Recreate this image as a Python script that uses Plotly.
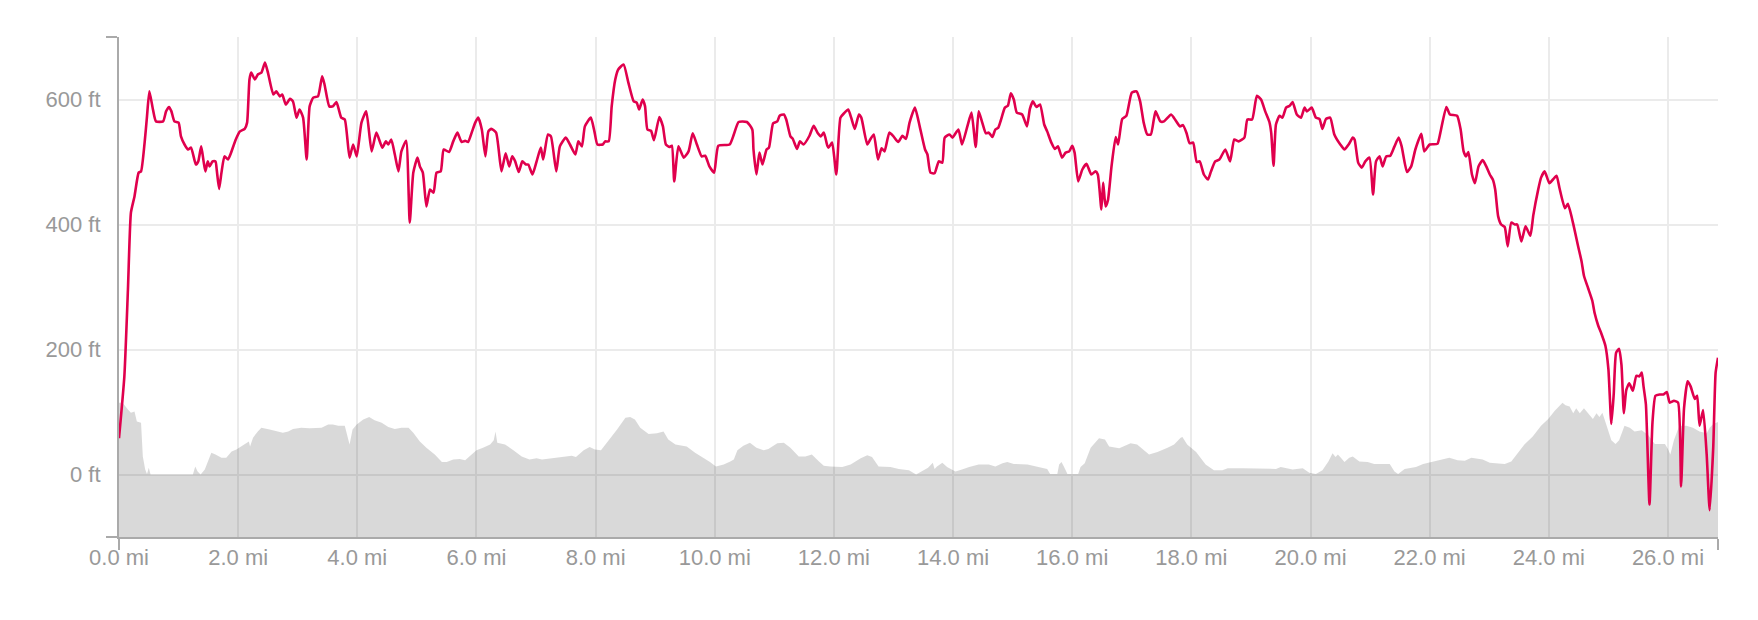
import plotly.graph_objects as go

# ---- axis settings ----
X_MAX = 26.84
Y_MIN = -100
Y_MAX = 700
X_TICKS = [0, 2, 4, 6, 8, 10, 12, 14, 16, 18, 20, 22, 24, 26]
X_TICK_LABELS = ["0.0 mi", "2.0 mi", "4.0 mi", "6.0 mi", "8.0 mi", "10.0 mi", "12.0 mi",
                 "14.0 mi", "16.0 mi", "18.0 mi", "20.0 mi", "22.0 mi", "24.0 mi", "26.0 mi"]
Y_TICKS = [0, 200, 400, 600]
Y_TICK_LABELS = ["0 ft", "200 ft", "400 ft", "600 ft"]

# ---- red series (distance in mi, value in ft) ----
red_mi = [0.0, 0.09, 0.15, 0.2, 0.26, 0.33, 0.37, 0.43, 0.47, 0.51, 0.57, 0.62, 0.74, 0.79, 0.84, 0.88,
          0.93, 1.0, 1.04, 1.1, 1.16, 1.21, 1.29, 1.33, 1.38, 1.42, 1.45, 1.49, 1.52, 1.57, 1.62, 1.64,
          1.68, 1.72, 1.77, 1.83, 1.87, 1.96, 2.03, 2.11, 2.15, 2.19, 2.22, 2.28, 2.33, 2.39, 2.45, 2.5,
          2.59, 2.64, 2.7, 2.74, 2.8, 2.87, 2.92, 2.98, 3.03, 3.09, 3.15, 3.2, 3.26, 3.34, 3.41, 3.45,
          3.53, 3.59, 3.65, 3.73, 3.79, 3.87, 3.93, 3.99, 4.07, 4.15, 4.24, 4.32, 4.42, 4.48, 4.52, 4.57,
          4.63, 4.69, 4.74, 4.82, 4.88, 4.94, 5.01, 5.05, 5.1, 5.16, 5.22, 5.28, 5.33, 5.4, 5.45, 5.54,
          5.61, 5.68, 5.75, 5.81, 5.86, 5.92, 5.98, 6.03, 6.09, 6.15, 6.2, 6.25, 6.33, 6.42, 6.49, 6.55,
          6.6, 6.65, 6.71, 6.77, 6.83, 6.87, 6.94, 7.01, 7.08, 7.12, 7.2, 7.25, 7.34, 7.4, 7.5, 7.57,
          7.66, 7.71, 7.77, 7.82, 7.92, 7.98, 8.03, 8.12, 8.16, 8.22, 8.27, 8.33, 8.38, 8.47, 8.55, 8.64,
          8.69, 8.73, 8.79, 8.83, 8.87, 8.93, 8.98, 9.07, 9.13, 9.18, 9.24, 9.28, 9.32, 9.39, 9.48, 9.56,
          9.63, 9.7, 9.78, 9.84, 9.91, 9.99, 10.06, 10.25, 10.32, 10.4, 10.54, 10.63, 10.65, 10.7, 10.75,
          10.8, 10.87, 10.91, 10.98, 11.05, 11.09, 11.16, 11.2, 11.27, 11.31, 11.38, 11.43, 11.49, 11.59,
          11.66, 11.73, 11.78, 11.83, 11.89, 11.91, 11.97, 12.04, 12.11, 12.17, 12.24, 12.29, 12.35,
          12.42, 12.46, 12.56, 12.61, 12.67, 12.74, 12.8, 12.85, 12.93, 13.0, 13.08, 13.15, 13.21, 13.27,
          13.36, 13.44, 13.53, 13.57, 13.62, 13.69, 13.76, 13.82, 13.86, 13.94, 13.99, 14.09, 14.15,
          14.24, 14.31, 14.38, 14.43, 14.49, 14.55, 14.6, 14.66, 14.71, 14.76, 14.8, 14.87, 14.92, 14.97,
          15.02, 15.07, 15.16, 15.24, 15.29, 15.34, 15.4, 15.46, 15.53, 15.58, 15.65, 15.71, 15.76, 15.83,
          15.89, 15.95, 16.0, 16.04, 16.1, 16.17, 16.24, 16.32, 16.39, 16.43, 16.49, 16.52, 16.56, 16.6,
          16.66, 16.73, 16.77, 16.84, 16.91, 17.0, 17.08, 17.14, 17.2, 17.26, 17.32, 17.37, 17.4, 17.48,
          17.54, 17.66, 17.74, 17.81, 17.86, 17.92, 17.97, 18.03, 18.09, 18.14, 18.21, 18.28, 18.33, 18.4,
          18.47, 18.57, 18.65, 18.72, 18.79, 18.89, 18.94, 19.02, 19.1, 19.17, 19.24, 19.31, 19.34, 19.38,
          19.42, 19.48, 19.53, 19.59, 19.65, 19.7, 19.77, 19.84, 19.9, 19.94, 20.02, 20.09, 20.15, 20.2,
          20.26, 20.33, 20.4, 20.5, 20.57, 20.64, 20.71, 20.74, 20.8, 20.86, 20.92, 20.99, 21.05, 21.1,
          21.16, 21.21, 21.27, 21.34, 21.41, 21.48, 21.53, 21.62, 21.69, 21.76, 21.86, 21.91, 22.0, 22.13,
          22.18, 22.28, 22.34, 22.46, 22.52, 22.57, 22.61, 22.65, 22.71, 22.76, 22.82, 22.89, 22.95,
          23.01, 23.06, 23.1, 23.15, 23.2, 23.26, 23.31, 23.37, 23.43, 23.47, 23.54, 23.61, 23.69, 23.74,
          23.82, 23.87, 23.93, 24.01, 24.07, 24.13, 24.18, 24.27, 24.32, 24.41, 24.49, 24.55, 24.59,
          24.66, 24.73, 24.77, 24.83, 24.88, 24.95, 25.0, 25.05, 25.09, 25.13, 25.18, 25.22, 25.26, 25.3,
          25.35, 25.41, 25.47, 25.52, 25.56, 25.59, 25.63, 25.69, 25.74, 25.79, 25.86, 25.92, 25.98,
          26.03, 26.1, 26.17, 26.22, 26.27, 26.33, 26.38, 26.45, 26.49, 26.53, 26.59, 26.65, 26.7, 26.76,
          26.8, 26.84]
red_ft = [58, 157, 296, 419, 445, 483, 485, 531, 573, 613, 584, 565, 565, 581, 588, 581,
          565, 563, 541, 528, 520, 523, 496, 501, 525, 501, 485, 501, 493, 501, 501, 488,
          457, 483, 509, 504, 512, 536, 549, 553, 563, 632, 643, 632, 640, 643, 659, 643,
          608, 613, 605, 608, 592, 601, 597, 571, 584, 571, 504, 589, 603, 605, 637, 624,
          589, 589, 596, 571, 568, 507, 528, 509, 563, 581, 517, 547, 523, 533, 528, 536,
          512, 485, 517, 534, 403, 483, 507, 493, 483, 429, 456, 451, 483, 485, 520, 516,
          533, 547, 532, 534, 532, 547, 563, 571, 552, 509, 549, 553, 547, 485, 514, 493,
          509, 501, 484, 501, 496, 496, 480, 501, 523, 504, 544, 541, 485, 525, 539, 528,
          512, 533, 525, 557, 571, 549, 528, 528, 533, 533, 589, 632, 648, 656, 627, 597,
          595, 584, 600, 589, 552, 550, 535, 572, 557, 528, 524, 526, 469, 525, 507, 517,
          546, 528, 509, 510, 493, 483, 526, 528, 544, 564, 564, 552, 520, 480, 515,
          496, 520, 523, 562, 565, 574, 576, 568, 541, 537, 521, 533, 528, 542,
          558, 546, 541, 547, 526, 523, 531, 480, 571, 578, 584, 571, 553,
          576, 571, 528, 536, 544, 504, 522, 517, 547, 541, 532, 542, 537, 563,
          587, 557, 520, 512, 483, 482, 501, 499, 539, 544, 539, 552, 528,
          557, 579, 524, 581, 563, 546, 547, 540, 552, 555, 566, 587, 590, 610,
          600, 579, 576, 557, 585, 597, 588, 592, 560, 549, 531, 521, 525, 507,
          515, 517, 526, 515, 469, 488, 497, 480, 485, 480, 424, 467, 429, 439,
          493, 540, 528, 569, 574, 611, 613, 597, 563, 544, 544, 568, 581, 565,
          565, 576, 566, 557, 559, 546, 530, 531, 500, 501, 480, 472, 485, 501,
          504, 520, 501, 536, 533, 539, 568, 568, 606, 600, 581, 564, 547, 494,
          560, 574, 571, 587, 590, 596, 576, 571, 587, 581, 587, 571, 569, 553,
          569, 571, 544, 528, 520, 528, 539, 536, 499, 491, 501, 507, 448, 501,
          509, 493, 509, 510, 525, 539, 525, 484, 493, 520, 545, 517, 528, 529,
          547, 588, 576, 574, 552, 517, 509, 516, 480, 466, 493, 503, 493,
          480, 472, 456, 413, 400, 396, 365, 403, 400, 400, 373, 397, 382, 415,
          455, 475, 485, 466, 472, 478, 458, 426, 433, 401, 366, 341, 318,
          298, 278, 258, 238, 226, 206, 169, 81, 129, 195, 201, 175, 98, 135,
          146, 134, 158, 157, 163, 141, 112, -48, 83, 126, 128, 128, 132,
          115, 118, 115, -19, 106, 149, 141, 121, 126, 78, 103, 32, -57, 43,
          163, 187]

# ---- grey elevation series (distance in mi, elevation in ft) ----
elev_mi = [0.0, 0.06, 0.15, 0.2, 0.26, 0.3, 0.37, 0.4, 0.44, 0.47, 0.5, 0.53, 1.24, 1.28, 1.32, 1.37,
           1.44, 1.49, 1.55, 1.62, 1.72, 1.8, 1.89, 1.97, 2.05, 2.15, 2.18, 2.2, 2.25, 2.33, 2.39, 2.53,
           2.64, 2.75, 2.84, 2.92, 3.06, 3.2, 3.4, 3.51, 3.59, 3.68, 3.79, 3.83, 3.87, 3.92, 3.99, 4.1,
           4.2, 4.29, 4.41, 4.52, 4.63, 4.74, 4.86, 4.94, 5.05, 5.16, 5.3, 5.42, 5.5, 5.61, 5.72, 5.81,
           5.92, 6.0, 6.11, 6.23, 6.29, 6.32, 6.35, 6.48, 6.62, 6.76, 6.89, 7.01, 7.1, 7.29, 7.52, 7.6,
           7.67, 7.8, 7.9, 7.99, 8.09, 8.19, 8.36, 8.5, 8.58, 8.66, 8.75, 8.89, 9.03, 9.14, 9.22, 9.34,
           9.53, 9.67, 9.81, 9.92, 10.02, 10.15, 10.26, 10.32, 10.38, 10.48, 10.59, 10.7, 10.82, 10.9,
           11.05, 11.16, 11.27, 11.41, 11.52, 11.63, 11.75, 11.83, 11.94, 12.14, 12.28, 12.36, 12.45,
           12.56, 12.64, 12.75, 12.95, 13.09, 13.26, 13.38, 13.48, 13.58, 13.66, 13.69, 13.73, 13.82,
           13.9, 14.04, 14.15, 14.27, 14.43, 14.6, 14.71, 14.83, 14.91, 15.02, 15.25, 15.41, 15.58, 15.63,
           15.75, 15.78, 15.82, 15.86, 15.92, 16.1, 16.14, 16.21, 16.31, 16.45, 16.55, 16.62, 16.79,
           16.98, 17.09, 17.29, 17.43, 17.6, 17.71, 17.82, 17.85, 17.93, 18.08, 18.24, 18.38, 18.52,
           18.61, 18.86, 19.14, 19.42, 19.5, 19.7, 19.87, 19.98, 20.09, 20.2, 20.3, 20.37, 20.42, 20.46,
           20.51, 20.57, 20.65, 20.71, 20.82, 20.96, 21.07, 21.21, 21.33, 21.41, 21.47, 21.58, 21.77,
           21.89, 22.03, 22.19, 22.33, 22.47, 22.59, 22.7, 22.89, 23.01, 23.26, 23.37, 23.48, 23.59,
           23.73, 23.87, 23.99, 24.1, 24.23, 24.28, 24.35, 24.41, 24.46, 24.52, 24.59, 24.66, 24.74,
           24.8, 24.85, 24.9, 24.97, 25.05, 25.12, 25.18, 25.27, 25.36, 25.44, 25.56, 25.67, 25.78,
           25.95, 26.0, 26.04, 26.1, 26.19, 26.31, 26.42, 26.53, 26.65, 26.7, 26.76, 26.84]
elev_ft = [115, 115, 104, 99, 101, 85, 83, 29, 8, 1, 11, 0, 0, 13, 5, 0,
           8, 19, 35, 32, 27, 27, 37, 40, 45, 51, 53, 45, 59, 69, 75, 72,
           69, 67, 69, 73, 75, 74, 75, 80, 80, 78, 78, 61, 48, 72, 80, 88,
           92, 87, 83, 76, 73, 75, 75, 67, 53, 43, 32, 20, 20, 24, 25, 23,
           32, 39, 43, 48, 55, 69, 51, 48, 39, 29, 24, 26, 24, 26, 28, 30,
           28, 39, 44, 40, 39, 51, 72, 91, 92, 88, 75, 65, 66, 69, 56, 48,
           45, 35, 27, 20, 13, 16, 21, 24, 39, 46, 51, 43, 39, 41,
           50, 51, 43, 29, 29, 32, 21, 14, 13, 12, 16, 21, 26,
           31, 28, 13, 12, 9, 7, 0, 5, 11, 19, 9, 13, 19,
           12, 5, 8, 12, 16, 16, 13, 18, 20, 17, 16, 13, 9, 1,
           1, 16, 20, 13, 1, 1, 12, 18, 43, 58, 56, 45, 42,
           50, 48, 32, 36, 43, 48, 59, 60, 48, 36, 16, 7, 7,
           10, 10, 9, 9, 12, 8, 10, 3, 1, 7, 21, 34, 28, 32,
           27, 20, 27, 29, 21, 20, 17, 17, 17, 5, 1, 9, 12,
           17, 20, 23, 27, 23, 22, 27, 24, 19, 17, 21, 34, 48,
           61, 78, 89, 102, 115, 111, 109, 98, 106, 98, 106, 98, 89,
           98, 92, 99, 78, 55, 49, 55, 78, 75, 69, 71, 63, 49,
           49, 41, 32, 55, 78, 78, 75, 69, 66, 75, 81, 84]

FONT = "Helvetica Neue, Helvetica, Liberation Sans, Arial, sans-serif"
AXIS_COLOR = "#aaaaaa"
LABEL_COLOR = "#999999"

fig = go.Figure()
# invisible baseline at the bottom of the y range, so the elevation fill reaches the axis
fig.add_trace(go.Scatter(x=[0, X_MAX], y=[Y_MIN, Y_MIN], mode="lines",
                         line=dict(width=0, color="rgba(0,0,0,0)"), hoverinfo="skip", showlegend=False))
fig.add_trace(go.Scatter(x=elev_mi, y=elev_ft, mode="lines", fill="tonexty",
                         fillcolor="rgba(0,0,0,0.15)", line=dict(width=0, color="rgba(0,0,0,0)"),
                         hoverinfo="skip", showlegend=False))
fig.add_trace(go.Scatter(x=red_mi, y=red_ft, mode="lines",
                         line=dict(color="#e0004d", width=2.6, shape="spline", smoothing=0.5),
                         showlegend=False))

fig.update_layout(
    width=1758, height=620,
    margin=dict(l=119, r=40, t=37, b=83),
    paper_bgcolor="white", plot_bgcolor="white",
    font=dict(family=FONT, size=22, color=LABEL_COLOR),
    xaxis=dict(range=[0, X_MAX], tickmode="array", tickvals=X_TICKS, ticktext=X_TICK_LABELS,
               ticks="", showgrid=True, gridcolor="#ebebeb", gridwidth=2,
               showline=True, linecolor=AXIS_COLOR, linewidth=2, zeroline=False,
               ticklabelstandoff=0,
               tickfont=dict(family=FONT, size=22, color=LABEL_COLOR),
               minor=dict(tickmode="array", tickvals=[0, X_MAX], ticks="outside", ticklen=11,
                          tickwidth=2, tickcolor=AXIS_COLOR, showgrid=False)),
    yaxis=dict(range=[Y_MIN, Y_MAX], tickmode="array", tickvals=Y_TICKS, ticktext=Y_TICK_LABELS,
               ticks="", showgrid=True, gridcolor="#ebebeb", gridwidth=2,
               showline=True, linecolor=AXIS_COLOR, linewidth=2, zeroline=False,
               ticklabelstandoff=12,
               tickfont=dict(family=FONT, size=22, color=LABEL_COLOR),
               minor=dict(tickmode="array", tickvals=[Y_MIN, Y_MAX], ticks="outside", ticklen=11,
                          tickwidth=2, tickcolor=AXIS_COLOR, showgrid=False)),
)

fig.write_html("out.html", config={"displayModeBar": False},
               post_script="document.body.style.margin='0';")
